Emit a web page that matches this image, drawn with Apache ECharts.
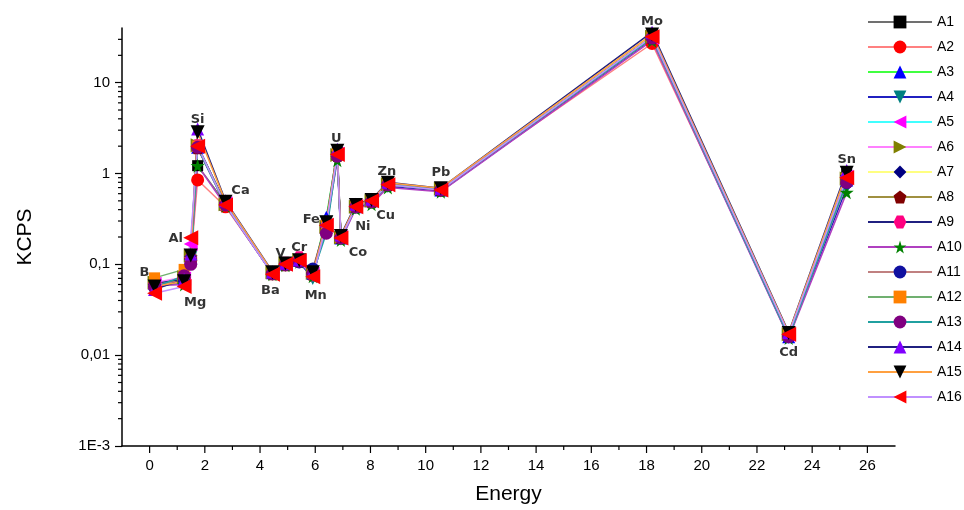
<!DOCTYPE html>
<html>
<head>
<meta charset="utf-8">
<script src="https://cdn.jsdelivr.net/npm/echarts@6/dist/echarts.min.js"></script>
<style>
  html, body { margin: 0; padding: 0; background: #fff; }
  #chart { width: 964px; height: 510px; }
</style>
</head>
<body>
<div id="chart"></div>
<script>
// element lines, in energy order
const elements = ['B', 'Mg', 'Al', 'Si', 'Ca', 'Ba', 'V', 'Cr', 'Mn', 'Fe', 'U', 'Co', 'Ni', 'Cu', 'Zn', 'Pb', 'Mo', 'Cd', 'Sn'];
const energies = [0.18, 1.25, 1.49, 1.74, 2.75, 4.45, 4.92, 5.42, 5.91, 6.40, 6.80, 6.93, 7.47, 8.04, 8.63, 10.55, 18.2, 23.15, 25.25];

// KCPS per sample
const A1 = [0.058, 0.066, 0.115, 1.22, 0.47, 0.080, 0.100, 0.108, 0.078, 0.27, 1.70, 0.195, 0.43, 0.49, 0.76, 0.66, 33, 0.0165, 0.98];
const A2 = [0.060, 0.064, 0.110, 0.85, 0.43, 0.079, 0.099, 0.112, 0.076, 0.28, 1.55, 0.205, 0.44, 0.50, 0.74, 0.67, 27, 0.0172, 0.90];
const A3 = [0.062, 0.068, 0.120, 1.95, 0.46, 0.081, 0.101, 0.110, 0.080, 0.33, 1.75, 0.195, 0.43, 0.50, 0.77, 0.66, 32, 0.0160, 0.85];
const A4 = [0.059, 0.062, 0.118, 1.90, 0.45, 0.078, 0.098, 0.106, 0.070, 0.29, 1.50, 0.190, 0.42, 0.48, 0.72, 0.64, 30, 0.0158, 0.70];
const A5 = [0.061, 0.070, 0.167, 2.00, 0.47, 0.080, 0.100, 0.109, 0.079, 0.27, 1.65, 0.200, 0.44, 0.51, 0.75, 0.67, 31, 0.0168, 0.92];
const A6 = [0.063, 0.072, 0.125, 2.05, 0.46, 0.082, 0.102, 0.111, 0.081, 0.26, 1.60, 0.198, 0.43, 0.50, 0.76, 0.68, 32, 0.0170, 0.88];
const A7 = [0.057, 0.065, 0.122, 1.98, 0.48, 0.081, 0.101, 0.110, 0.080, 0.28, 1.72, 0.202, 0.45, 0.51, 0.78, 0.68, 33, 0.0166, 0.95];
const A8 = [0.060, 0.068, 0.112, 1.92, 0.46, 0.079, 0.099, 0.112, 0.078, 0.25, 1.58, 0.196, 0.43, 0.49, 0.75, 0.66, 31, 0.0164, 0.86];
const A9 = [0.061, 0.069, 0.118, 2.02, 0.47, 0.080, 0.103, 0.118, 0.077, 0.27, 1.62, 0.205, 0.44, 0.50, 0.77, 0.67, 32, 0.0167, 0.90];
const A10 = [0.058, 0.060, 0.108, 1.22, 0.44, 0.078, 0.098, 0.107, 0.074, 0.26, 1.40, 0.185, 0.41, 0.46, 0.70, 0.63, 29, 0.0155, 0.62];
const A11 = [0.060, 0.066, 0.115, 1.96, 0.46, 0.080, 0.100, 0.105, 0.090, 0.28, 1.60, 0.200, 0.43, 0.50, 0.76, 0.66, 31, 0.0163, 0.78];
const A12 = [0.071, 0.088, 0.105, 2.00, 0.45, 0.081, 0.100, 0.110, 0.082, 0.27, 1.65, 0.198, 0.44, 0.50, 0.76, 0.67, 32, 0.0168, 0.88];
const A13 = [0.056, 0.075, 0.100, 1.94, 0.45, 0.079, 0.099, 0.108, 0.079, 0.22, 1.55, 0.195, 0.43, 0.49, 0.75, 0.66, 31, 0.0160, 0.80];
const A14 = [0.053, 0.068, 0.130, 3.10, 0.50, 0.083, 0.103, 0.112, 0.083, 0.30, 1.85, 0.210, 0.46, 0.52, 0.80, 0.69, 36, 0.0178, 1.08];
const A15 = [0.057, 0.065, 0.125, 2.85, 0.49, 0.082, 0.102, 0.111, 0.082, 0.29, 1.78, 0.205, 0.45, 0.51, 0.79, 0.69, 34, 0.0175, 1.02];
const A16 = [0.048, 0.057, 0.196, 2.00, 0.45, 0.078, 0.100, 0.110, 0.073, 0.27, 1.62, 0.195, 0.43, 0.50, 0.75, 0.66, 32, 0.0170, 0.90];

const seriesNames = ['A1', 'A2', 'A3', 'A4', 'A5', 'A6', 'A7', 'A8', 'A9', 'A10', 'A11', 'A12', 'A13', 'A14', 'A15', 'A16'];
const seriesValues = [A1, A2, A3, A4, A5, A6, A7, A8, A9, A10, A11, A12, A13, A14, A15, A16];

// axis ticks
const xMajorTicks = [0, 2, 4, 6, 8, 10, 12, 14, 16, 18, 20, 22, 24, 26];
const xMinorTicks = [1, 3, 5, 7, 9, 11, 13, 15, 17, 19, 21, 23, 25];
const yDecades = [0.001, 0.01, 0.1, 1, 10];
const yDecadeLabels = ['1E-3', '0,01', '0,1', '1', '10'];
const yMinorTicks = [
  0.002, 0.003, 0.004, 0.005, 0.006, 0.007, 0.008, 0.009,
  0.02, 0.03, 0.04, 0.05, 0.06, 0.07, 0.08, 0.09,
  0.2, 0.3, 0.4, 0.5, 0.6, 0.7, 0.8, 0.9,
  2, 3, 4, 5, 6, 7, 8, 9,
  20, 30
];

const X_MIN = -1, X_MAX = 27, Y_MIN = 0.001, Y_MAX = 40;

// look of each sample: line colour, marker colour, marker
const lineColors = ['#707070', '#ff8080', '#40ff40', '#2020c0', '#40ffff', '#ff80ff', '#ffff80', '#a09040',
  '#202080', '#b040c0', '#c08080', '#70b070', '#20a0a0', '#202080', '#ffa040', '#c090ff'];
const markerColors = ['#000000', '#ff0000', '#0000ff', '#008080', '#ff00ff', '#808000', '#000080', '#800000',
  '#ff0080', '#008000', '#1010a0', '#ff8000', '#800080', '#8000ff', '#000000', '#ff0000'];
const PENTAGON = 'path://M50,0 L100,38 L81,100 L19,100 L0,38 Z';
const HEXAGON = 'path://M25,0 L75,0 L100,50 L75,100 L25,100 L0,50 Z';
const STAR = 'path://M50,0 L61,35 L98,35 L68,57 L79,91 L50,70 L21,91 L32,57 L2,35 L39,35 Z';
const markers = ['rect', 'circle', 'triangle', 'triangle', 'triangle', 'triangle', 'diamond', PENTAGON,
  HEXAGON, STAR, 'circle', 'rect', 'circle', 'triangle', 'triangle', 'triangle'];
const markerRotate = [0, 0, 0, 180, 90, -90, 0, 0, 0, 0, 0, 0, 0, 0, 180, 90];
const markerSize = [11, 13, 13, 13, 14, 14, 13, 13, 13, 14, 12, 11, 13, 13, 14, 15];

// where each element name sits, in pixels from the A16 point
const labelOffsets = [[-10, -21], [11, 16], [-15, 1], [0, -27], [15, -14], [-2, 16], [-5, -11], [0, -13],
  [3, 19], [-15, -6], [-1, -16], [17, 15], [7, 20], [14, 15], [-1, -13], [0, -17], [0, -15], [0, 18], [0, -18]];

const chart = echarts.init(document.getElementById('chart'));

const lineSeries = seriesNames.map((name, i) => ({
  name: name,
  type: 'line',
  data: energies.map((e, j) => [e, seriesValues[i][j]]),
  symbol: markers[i],
  symbolSize: markerSize[i],
  symbolRotate: markerRotate[i],
  showAllSymbol: true,
  lineStyle: { color: lineColors[i], width: 1.5 },
  itemStyle: { color: markerColors[i] },
  emphasis: { disabled: true },
  animation: false
}));

const labelSeries = {
  name: 'labels',
  type: 'scatter',
  symbolSize: 1,
  itemStyle: { color: 'rgba(0,0,0,0)' },
  silent: true,
  z: 5,
  data: elements.map((el, j) => ({
    value: [energies[j], A16[j]],
    label: {
      show: true,
      position: 'inside',
      offset: labelOffsets[j],
      formatter: el,
      color: '#000',
      fontFamily: 'DejaVu Sans',
      fontWeight: 'bold',
      fontSize: 13
    }
  })),
  animation: false
};

const tickData = []
  .concat(xMajorTicks.map(v => [v, Y_MIN, 0]))
  .concat(xMinorTicks.map(v => [v, Y_MIN, 1]))
  .concat(yMinorTicks.map(v => [X_MIN, v, 2]));

const tickSeries = {
  name: 'ticks',
  type: 'custom',
  silent: true,
  clip: false,
  z: 10,
  data: tickData,
  renderItem: (params, api) => {
    const p = api.coord([api.value(0), api.value(1)]);
    const kind = api.value(2);
    let shape;
    if (kind === 0) shape = { x1: p[0], y1: p[1], x2: p[0], y2: p[1] + 7 };
    else if (kind === 1) shape = { x1: p[0], y1: p[1], x2: p[0], y2: p[1] + 4 };
    else shape = { x1: p[0], y1: p[1], x2: p[0] - 4, y2: p[1] };
    return { type: 'line', shape: shape, style: { stroke: '#000', lineWidth: 1.2 } };
  },
  animation: false
};

const option = {
  backgroundColor: '#ffffff',
  animation: false,
  grid: { left: 122, right: 69, top: 28, bottom: 64, containLabel: false },
  legend: {
    data: seriesNames,
    orient: 'vertical',
    left: 862,
    top: 9,
    itemWidth: 64,
    itemHeight: 16,
    itemGap: 9,
    textStyle: { color: '#000', fontFamily: 'Liberation Sans', fontSize: 14, lineHeight: 16 },
    selectedMode: false
  },
  xAxis: {
    type: 'value',
    min: X_MIN,
    max: X_MAX,
    interval: 1,
    name: 'Energy',
    nameLocation: 'middle',
    nameGap: 38,
    nameTextStyle: { color: '#000', fontFamily: 'Liberation Sans', fontSize: 21 },
    axisLine: { onZero: false, lineStyle: { color: '#000', width: 1.5 } },
    axisTick: { show: false },
    axisLabel: {
      color: '#000',
      fontFamily: 'Liberation Sans',
      fontSize: 15,
      margin: 12,
      showMinLabel: false,
      showMaxLabel: false,
      formatter: v => (xMajorTicks.indexOf(v) >= 0 ? String(v) : '')
    },
    splitLine: { show: false }
  },
  yAxis: {
    type: 'log',
    logBase: 10,
    min: Y_MIN,
    max: Y_MAX,
    name: 'KCPS',
    nameLocation: 'middle',
    nameGap: 86,
    nameTextStyle: { color: '#000', fontFamily: 'Liberation Sans', fontSize: 21 },
    axisLine: { show: true, onZero: false, lineStyle: { color: '#000', width: 1.5 } },
    axisTick: { show: true, inside: false, length: 7, lineStyle: { color: '#000', width: 1.2 } },
    axisLabel: {
      color: '#000',
      fontFamily: 'Liberation Sans',
      fontSize: 15,
      margin: 12,
      showMaxLabel: false,
      formatter: v => {
        for (let k = 0; k < yDecades.length; k++) {
          if (Math.abs(Math.log10(v) - Math.log10(yDecades[k])) < 1e-6) return yDecadeLabels[k];
        }
        return '';
      }
    },
    splitLine: { show: false }
  },
  series: lineSeries.concat([labelSeries, tickSeries])
};

chart.setOption(option);
</script>
</body>
</html>
